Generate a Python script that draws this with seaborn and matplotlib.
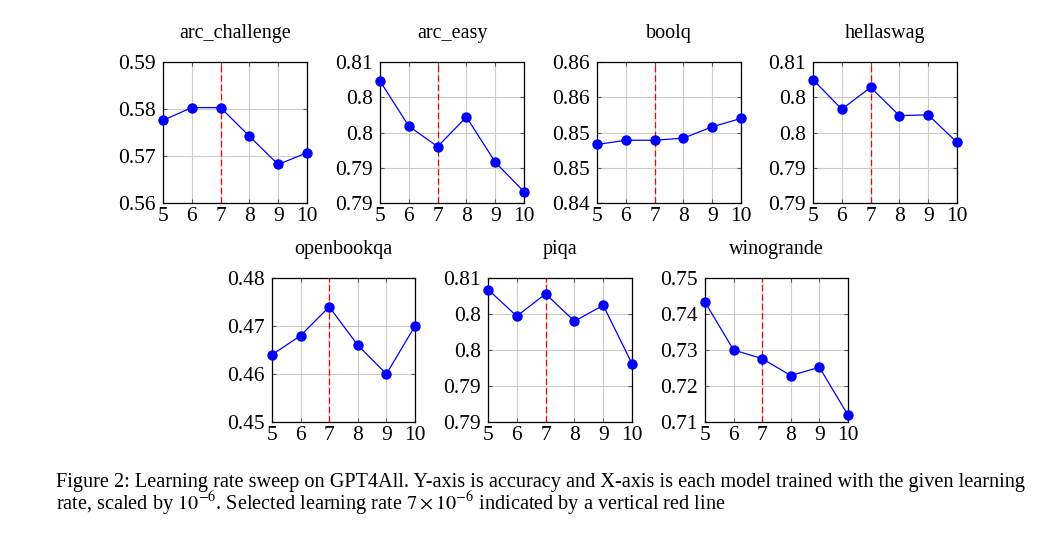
"""Learning rate sweep on GPT4All: accuracy per benchmark."""

import matplotlib
matplotlib.use("Agg")
import matplotlib.pyplot as plt
import pandas as pd
import seaborn as sns

sns.set_theme(style="whitegrid")
plt.rcParams["font.family"] = ["Liberation Serif", "DejaVu Serif"]
plt.rcParams["mathtext.fontset"] = "stix"
plt.rcParams["text.color"] = "black"

lr = [5, 6, 7, 8, 9, 10]
selected_lr = 7

arc_challenge = [0.5776, 0.5803, 0.5803, 0.5742, 0.5682, 0.5707]
arc_easy = [0.8073, 0.8009, 0.7980, 0.8022, 0.7958, 0.7916]
boolq = [0.8483, 0.8489, 0.8489, 0.8492, 0.8508, 0.8520]
hellaswag = [0.8075, 0.8033, 0.8064, 0.8024, 0.8025, 0.7986]
openbookqa = [0.464, 0.468, 0.474, 0.466, 0.460, 0.470]
piqa = [0.8084, 0.8047, 0.8078, 0.8040, 0.8062, 0.7981]
winogrande = [0.7433, 0.7300, 0.7276, 0.7229, 0.7252, 0.7119]

# y ticks and the (rounded) labels as printed in the paper
ticks_acc = [0.56, 0.57, 0.58, 0.59]
labels_acc = ["0.56", "0.57", "0.58", "0.59"]
ticks_08 = [0.79, 0.795, 0.80, 0.805, 0.81]
labels_08 = ["0.79", "0.79", "0.8", "0.8", "0.81"]
ticks_bq = [0.84, 0.845, 0.85, 0.855, 0.86]
labels_bq = ["0.84", "0.85", "0.85", "0.86", "0.86"]
ticks_obq = [0.45, 0.46, 0.47, 0.48]
labels_obq = ["0.45", "0.46", "0.47", "0.48"]
ticks_wg = [0.71, 0.72, 0.73, 0.74, 0.75]
labels_wg = ["0.71", "0.72", "0.73", "0.74", "0.75"]

panels = [
    ("arc_challenge", arc_challenge, ticks_acc, labels_acc),
    ("arc_easy", arc_easy, ticks_08, labels_08),
    ("boolq", boolq, ticks_bq, labels_bq),
    ("hellaswag", hellaswag, ticks_08, labels_08),
    ("openbookqa", openbookqa, ticks_obq, labels_obq),
    ("piqa", piqa, ticks_08, labels_08),
    ("winogrande", winogrande, ticks_wg, labels_wg),
]

W, H = 1062, 539
# axes boxes in pixels: left, top, width, height
boxes = [
    (163, 62, 144, 141), (380, 62, 144, 141), (597, 62, 144, 141), (813, 62, 144, 141),
    (272, 278, 143, 144), (488, 278, 144, 144), (705, 278, 143, 144),
]

fig = plt.figure(figsize=(W / 100, H / 100), dpi=100)

for (name, vals, yt, yl), (bx, by, bw, bh) in zip(panels, boxes):
    ax = fig.add_axes([bx / W, 1 - (by + bh) / H, bw / W, bh / H])
    df = pd.DataFrame({"lr": lr, "acc": vals})
    sns.lineplot(data=df, x="lr", y="acc", ax=ax, color="blue", marker="o",
                 markersize=7.5, markeredgewidth=0, linewidth=0.9, clip_on=False, zorder=3)
    ax.axvline(selected_lr, color="red", linestyle=(0, (5, 2.5)), linewidth=0.9, zorder=2)
    ax.set_xlim(lr[0], lr[-1])
    ax.set_ylim(yt[0], yt[-1])
    ax.set_xticks(lr)
    ax.set_xticklabels([str(v) for v in lr])
    ax.set_yticks(yt)
    ax.set_yticklabels(yl)
    ax.set_xlabel("")
    ax.set_ylabel("")
    ax.set_facecolor("white")
    ax.grid(True, color="#cccccc", linewidth=0.8)
    for s in ax.spines.values():
        s.set_color("black")
        s.set_linewidth(0.9)
    ax.tick_params(axis="both", which="major", direction="in", length=3, width=0.8,
                   color="#555555", labelsize=15.5, top=True, right=True,
                   bottom=True, left=True, labelcolor="black")
    ax.tick_params(axis="y", pad=5)
    ax.tick_params(axis="x", pad=3)
    ax.set_title(name, fontsize=14.5, pad=17, color="black")

caption1 = ("Figure 2: Learning rate sweep on GPT4All. Y-axis is accuracy and X-axis is "
            "each model trained with the given learning")
caption2 = (r"rate, scaled by $10^{-6}$. Selected learning rate $7 \times 10^{-6}$ "
            "indicated by a vertical red line")
fig.text(56 / W, 1 - 482 / H, caption1, fontsize=14.6, va="center", ha="left", color="black")
fig.text(56 / W, 1 - 504 / H, caption2, fontsize=14.6, va="center", ha="left", color="black")

fig.savefig("out.png", dpi=100, facecolor="white")
